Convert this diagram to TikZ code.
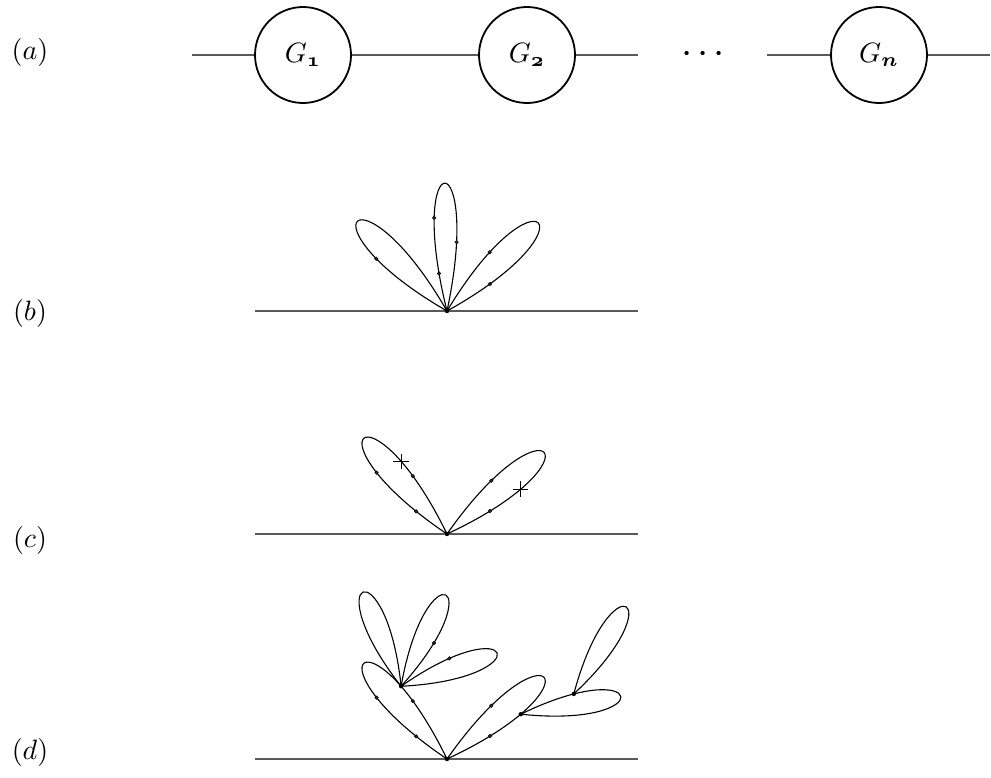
\documentclass[tikz,border=0pt]{standalone}
\usepackage{graphicx}
\usetikzlibrary{shapes.misc}
\newcommand\osn[1]{\mbox{\fontsize{7}{8}\fontencoding{OML}\fontfamily{cmm}\fontseries{b}\fontshape{it}\selectfont #1}}
\newcommand\myscaled[1]{\scalebox{2.8}{#1}}
\begin{document}
\begin{tikzpicture}[x=1pt,y=1pt,
 loopline/.style={line width=1.1pt},
 base/.style={draw=black!65,line width=1.2pt},
 gnode/.style={circle,draw,line width=1.8pt,minimum size=96pt,inner sep=0pt},
 dot/.style={circle,fill=black!80,draw=black,line width=0.6pt,inner sep=0pt,minimum size=3.4pt},
 vdot/.style={circle,fill=black,inner sep=0pt,minimum size=4.4pt},
 crossmark/.style={draw,cross out,rotate=45,minimum size=10pt,inner sep=0pt,line width=0.9pt},
 lab/.style={inner sep=0pt}]
\useasboundingbox (0,0) rectangle (991,-777);

% (a)
\node[lab] (la) at (30,-52) {\myscaled{$(a)$}};
\node[gnode] (G1) at (303,-55) {\myscaled{$G_{\osn{1}}$}};
\node[gnode] (G2) at (527,-55) {\myscaled{$G_{\osn{2}}$}};
\node[gnode] (Gn) at (879,-55) {\myscaled{$G_{\osn{n}}$}};
\node[lab] (dd) at (703,-55) {\scalebox{4}{${\cdot}\mkern2.3mu{\cdot}\mkern2.3mu{\cdot}$}};
\coordinate (e0) at (192,-55);
\coordinate (e1) at (638,-55);
\coordinate (e2) at (767,-55);
\coordinate (e3) at (990,-55);
\draw[base] (e0) -- (G1);
\draw[base] (G1) -- (G2);
\draw[base] (G2) -- (e1);
\draw[base] (e2) -- (Gn);
\draw[base] (Gn) -- (e3);

% (b)
\node[lab] (lb) at (30,-313) {\myscaled{$(b)$}};
\coordinate (vb) at (447,-311);
\coordinate (bl) at (255,-311);
\coordinate (br) at (638,-311);
\draw[base] (bl) -- (br);
\draw[loopline] (vb) .. controls +(150:175) and +(120:175) .. (vb) node[dot,pos=0.22] (b1) {};
\draw[loopline] (vb) .. controls +(104:175) and +(78:175) .. (vb)
  node[dot,pos=0.24] (b2) {} node[dot,pos=0.08] (b3) {} node[dot,pos=0.84] (b4) {};
\draw[loopline] (vb) .. controls +(59:175) and +(29:175) .. (vb)
  node[dot,pos=0.17] (b5) {} node[dot,pos=0.89] (b6) {};
\node[vdot] (vbd) at (vb) {};

% (c)
\node[lab] (lc) at (30,-540) {\myscaled{$(c)$}};
\coordinate (vc) at (447,-534);
\coordinate (cl) at (255,-534);
\coordinate (cr) at (638,-534);
\draw[base] (cl) -- (cr);
\draw[loopline] (vc) .. controls +(146:175) and +(116:175) .. (vc)
  node[dot,pos=0.24] (c1) {} node[dot,pos=0.08] (c2) {} node[dot,pos=0.846] (c3) {}
  node[crossmark,pos=0.787] (cx1) {};
\draw[loopline] (vc) .. controls +(55:175) and +(25:175) .. (vc)
  node[dot,pos=0.16] (c4) {} node[dot,pos=0.895] (c5) {}
  node[crossmark,pos=0.786] (cx2) {};
\node[vdot] (vcd) at (vc) {};

% (d)
\node[lab] (ld) at (30,-752) {\myscaled{$(d)$}};
\coordinate (vd) at (447,-759);
\coordinate (dl) at (255,-759);
\coordinate (dr) at (638,-759);
\draw[base] (dl) -- (dr);
\draw[loopline] (vd) .. controls +(146:175) and +(116:175) .. (vd)
  node[dot,pos=0.24] (d1) {} node[dot,pos=0.08] (d2) {} node[dot,pos=0.846] (d3) {}
  coordinate[pos=0.787] (A);
\draw[loopline] (vd) .. controls +(55:175) and +(25:175) .. (vd)
  node[dot,pos=0.16] (d4) {} node[dot,pos=0.895] (d5) {}
  coordinate[pos=0.786] (B);
\draw[loopline] (A) .. controls +(128:141) and +(96:141) .. (A);
\draw[loopline] (A) .. controls +(80:141) and +(48:141) .. (A) node[dot,pos=0.845] (d6) {};
\draw[loopline] (A) .. controls +(35:141) and +(3:141) .. (A) node[dot,pos=0.16] (d7) {};
\draw[loopline] (B) .. controls +(26:141) and +(-6:141) .. (B) coordinate[pos=0.164] (C);
\draw[loopline] (C) .. controls +(75:141) and +(43:141) .. (C);
\node[vdot] (vdd) at (vd) {};
\node[vdot] (Ad) at (A) {};
\node[vdot] (Bd) at (B) {};
\node[vdot] (Cd) at (C) {};
\end{tikzpicture}
\end{document}
